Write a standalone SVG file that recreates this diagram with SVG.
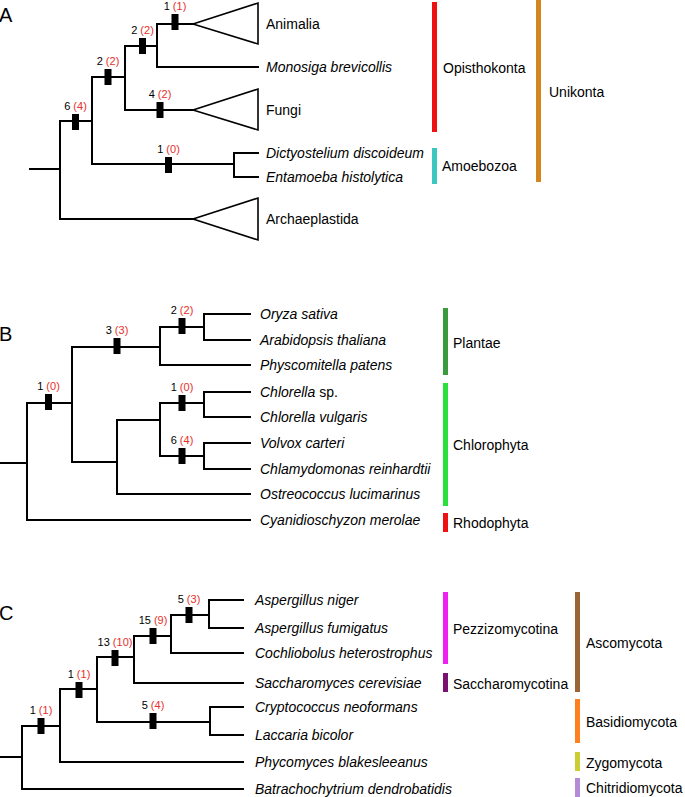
<svg xmlns="http://www.w3.org/2000/svg" width="685" height="797" viewBox="0 0 685 797">
<style>
text{font-family:"Liberation Sans",Arial,sans-serif;fill:#000}
.t{font-size:14px}
.i{font-style:italic}
.p{font-size:20px}
.n{font-size:11px;text-anchor:middle}
.r{fill:#e8302a}
.br{fill:none;stroke:#000;stroke-width:2;stroke-linecap:square}
.tri{fill:#fff;stroke:#000;stroke-width:1.6;stroke-linejoin:miter}
.m{fill:#000}
</style>
<rect width="685" height="797" fill="#fff"/>
<text class="p" x="-1" y="22">A</text>
<text class="p" x="-1" y="341">B</text>
<text class="p" x="-1" y="620">C</text>
<g id="connectors">
<path class="br" d="M30,169H60M60,121V219M60,219H193M60,121H92M92,77V164M92,164H234M234,153V177M234,153H258M234,177H258M92,77H125M125,46V110M125,110H193M125,46H157M157,24V67M157,67H258M157,24H193"/>
<path class="br" d="M0,463H27M27,403V520M27,520H250M27,403H72M72,347V462M72,347H160M160,327V365M160,365H250M160,327H204M204,314V340M204,314H250M204,340H250M72,462H117M117,420V494M117,494H250M117,420H160M160,403V456M160,403H204M204,392V417M204,392H250M204,417H250M160,456H204M204,443V469M204,443H250M204,469H250"/>
<path class="br" d="M0,757H22M22,726V789M22,789H243M22,726H60M60,689V762M60,762H243M60,689H97M97,657V722M97,722H210M210,707V735M210,707H243M210,735H243M97,657H134M134,636V683M134,683H243M134,636H171M171,615V653M171,653H243M171,615H209M209,600V628M209,600H243M209,628H243"/>
</g>
<g id="triangles">
<polygon class="tri" points="193,24 258,3 258,44"/>
<polygon class="tri" points="193,110 258,89 258,130"/>
<polygon class="tri" points="193,219 258,198 258,240"/>
</g>
<g id="marksA">
<rect class="m" x="72" y="114" width="7" height="16"/><text class="n" x="75.5" y="110">6 <tspan class="r">(4)</tspan></text>
<rect class="m" x="104.5" y="69" width="7" height="16"/><text class="n" x="108" y="65">2 <tspan class="r">(2)</tspan></text>
<rect class="m" x="139" y="38" width="7" height="16"/><text class="n" x="142.5" y="34">2 <tspan class="r">(2)</tspan></text>
<rect class="m" x="171.5" y="14" width="7" height="16"/><text class="n" x="175" y="10">1 <tspan class="r">(1)</tspan></text>
<rect class="m" x="156.5" y="102" width="7" height="16"/><text class="n" x="160" y="98">4 <tspan class="r">(2)</tspan></text>
<rect class="m" x="165" y="157" width="7" height="16"/><text class="n" x="168.5" y="153">1 <tspan class="r">(0)</tspan></text>
</g>
<g id="marksB">
<rect class="m" x="45" y="394" width="7" height="16"/><text class="n" x="48.5" y="390">1 <tspan class="r">(0)</tspan></text>
<rect class="m" x="113.5" y="338" width="7" height="16"/><text class="n" x="117" y="334">3 <tspan class="r">(3)</tspan></text>
<rect class="m" x="178.5" y="318" width="7" height="16"/><text class="n" x="182" y="314">2 <tspan class="r">(2)</tspan></text>
<rect class="m" x="178.5" y="395" width="7" height="16"/><text class="n" x="182" y="391">1 <tspan class="r">(0)</tspan></text>
<rect class="m" x="178.5" y="448" width="7" height="16"/><text class="n" x="182" y="444">6 <tspan class="r">(4)</tspan></text>
</g>
<g id="marksC">
<rect class="m" x="37.5" y="718" width="7" height="16"/><text class="n" x="41" y="714">1 <tspan class="r">(1)</tspan></text>
<rect class="m" x="75.5" y="682" width="7" height="16"/><text class="n" x="79" y="678">1 <tspan class="r">(1)</tspan></text>
<rect class="m" x="111.5" y="650" width="7" height="16"/><text class="n" x="115" y="646">13 <tspan class="r">(10)</tspan></text>
<rect class="m" x="149.5" y="628" width="7" height="16"/><text class="n" x="153" y="624">15 <tspan class="r">(9)</tspan></text>
<rect class="m" x="185.5" y="607" width="7" height="16"/><text class="n" x="189" y="603">5 <tspan class="r">(3)</tspan></text>
<rect class="m" x="149.5" y="713" width="7" height="16"/><text class="n" x="153" y="709">5 <tspan class="r">(4)</tspan></text>
</g>
<g id="taxaA">
<text class="t" x="266" y="29">Animalia</text>
<text class="t i" x="266" y="72">Monosiga brevicollis</text>
<text class="t" x="266" y="115">Fungi</text>
<text class="t i" x="266" y="158">Dictyostelium discoideum</text>
<text class="t i" x="266" y="182">Entamoeba histolytica</text>
<text class="t" x="266" y="224">Archaeplastida</text>
</g>
<g id="taxaB">
<text class="t i" x="260" y="319">Oryza sativa</text>
<text class="t i" x="260" y="345">Arabidopsis thaliana</text>
<text class="t i" x="260" y="370">Physcomitella patens</text>
<text class="t" x="260" y="397"><tspan class="i">Chlorella</tspan> sp.</text>
<text class="t i" x="260" y="422">Chlorella vulgaris</text>
<text class="t i" x="260" y="448">Volvox carteri</text>
<text class="t i" x="260" y="474">Chlamydomonas reinhardtii</text>
<text class="t i" x="260" y="499">Ostreococcus lucimarinus</text>
<text class="t i" x="260" y="525">Cyanidioschyzon merolae</text>
</g>
<g id="taxaC">
<text class="t i" x="255" y="605">Aspergillus niger</text>
<text class="t i" x="255" y="633">Aspergillus fumigatus</text>
<text class="t i" x="255" y="658">Cochliobolus heterostrophus</text>
<text class="t i" x="255" y="688">Saccharomyces cerevisiae</text>
<text class="t i" x="255" y="712">Cryptococcus neoformans</text>
<text class="t i" x="255" y="740">Laccaria bicolor</text>
<text class="t i" x="255" y="767">Phycomyces blakesleeanus</text>
<text class="t i" x="255" y="794">Batrachochytrium dendrobatidis</text>
</g>
<g id="groupsA">
<rect x="432" y="2" width="5" height="130" fill="#ee1111"/><text class="t" x="443" y="73">Opisthokonta</text>
<rect x="432" y="148" width="5" height="36" fill="#3cc8c0"/><text class="t" x="442" y="171">Amoebozoa</text>
<rect x="536" y="0" width="5" height="182" fill="#d4861e"/><text class="t" x="549" y="97">Unikonta</text>
</g>
<g id="groupsB">
<rect x="443" y="308" width="5" height="67" fill="#3a9a3c"/><text class="t" x="453" y="348">Plantae</text>
<rect x="443" y="383" width="5" height="123" fill="#2ae03c"/><text class="t" x="453" y="450">Chlorophyta</text>
<rect x="443" y="513" width="5" height="19" fill="#ee1111"/><text class="t" x="453" y="528">Rhodophyta</text>
</g>
<g id="groupsC">
<rect x="443" y="592" width="5" height="72" fill="#f020f0"/><text class="t" x="453" y="634">Pezzizomycotina</text>
<rect x="443" y="673" width="5" height="19" fill="#7a1070"/><text class="t" x="453" y="689">Saccharomycotina</text>
<rect x="575" y="592" width="5" height="100" fill="#9a6436"/><text class="t" x="586" y="648">Ascomycota</text>
<rect x="575" y="699" width="5" height="44" fill="#ff8020"/><text class="t" x="586" y="727">Basidiomycota</text>
<rect x="575" y="752" width="5" height="19" fill="#cccc33"/><text class="t" x="586" y="768">Zygomycota</text>
<rect x="575" y="778" width="5" height="19" fill="#b58ad6"/><text class="t" x="586" y="793">Chitridiomycota</text>
</g>
</svg>
